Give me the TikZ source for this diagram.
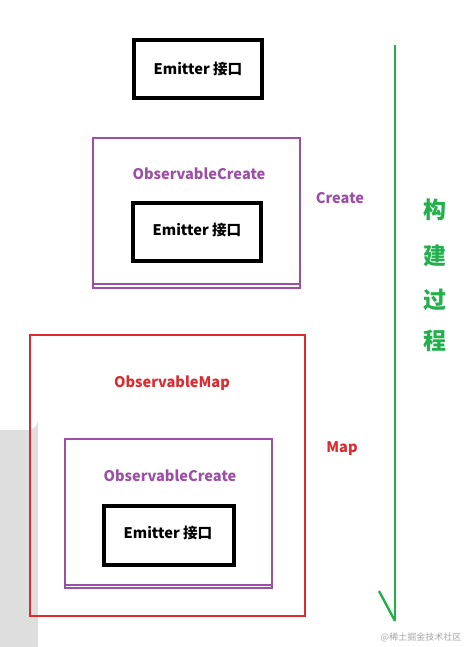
\documentclass[tikz,border=0pt]{standalone}
\usepackage{fontspec}
\setmainfont{Noto Sans CJK SC}
\definecolor{pur}{HTML}{9B4FA5}
\definecolor{rd}{HTML}{DC2B30}
\definecolor{gr}{HTML}{22B04C}
\definecolor{bg}{HTML}{DEDEDE}
\begin{document}
\begin{tikzpicture}[x=1pt,y=-1pt,
  emit/.style={draw=black,line width=3.6pt,fill=white},
  pbox/.style={draw=pur,line width=2.6pt},
  rbox/.style={draw=rd,line width=2.8pt},
  lbl/.style={font=\fontsize{14.6}{16}\selectfont\bfseries,inner sep=0pt},
  zh/.style={font=\fontsize{23}{25}\selectfont\bfseries,text=gr,inner sep=0pt}]
\useasboundingbox (0,0) rectangle (475,647);
\fill[white] (0,0) rectangle (475,647);
% gray background piece
\fill[bg] (0,430) -- (28,430) arc[start angle=90,end angle=0,radius=10] -- (38,647) -- (0,647) -- cycle;
% top emitter
\draw[emit] (134,40) rectangle (262,98);
\node[lbl] (e1) at (198,69) {Emitter 接口};
% first ObservableCreate
\draw[pbox] (93,138) rectangle (300,288);
\draw[draw=pur,line width=1.2pt] (94,284) -- (299,284);
\node[lbl,text=pur] (oc1) at (199,174) {ObservableCreate};
\draw[emit] (133,203) rectangle (261,261);
\node[lbl] (e2) at (197,230) {Emitter 接口};
\node[lbl,text=pur] (cr) at (340,198) {Create};
% ObservableMap
\draw[rbox] (30,335) rectangle (305,616);
\node[lbl,text=rd] (om) at (172,383) {ObservableMap};
\node[lbl,text=rd] (mp) at (342,449) {Map};
\draw[pbox] (65,439) rectangle (272,588);
\draw[draw=pur,line width=1.2pt] (66,585) -- (271,585);
\node[lbl,text=pur] (oc2) at (170,476) {ObservableCreate};
\draw[emit] (104,506) rectangle (234,565);
\node[lbl] (e3) at (168,533) {Emitter 接口};
% green arrow
\coordinate (gt) at (395,45);
\coordinate (gb) at (395,621);
\coordinate (gh) at (379,591);
\draw[gr,line width=2.6pt] (gt) -- (gb);
\draw[gr,line width=2.4pt] (gh) -- (gb);
\node[zh] (z1) at (435,210) {构};
\node[zh] (z2) at (435,256) {建};
\node[zh] (z3) at (435,300) {过};
\node[zh] (z4) at (435,341) {程};
% watermark
\node[font=\fontsize{9}{10}\selectfont,text=black!35,inner sep=0pt] (wm) at (421,637) {@稀土掘金技术社区};
\end{tikzpicture}
\end{document}
